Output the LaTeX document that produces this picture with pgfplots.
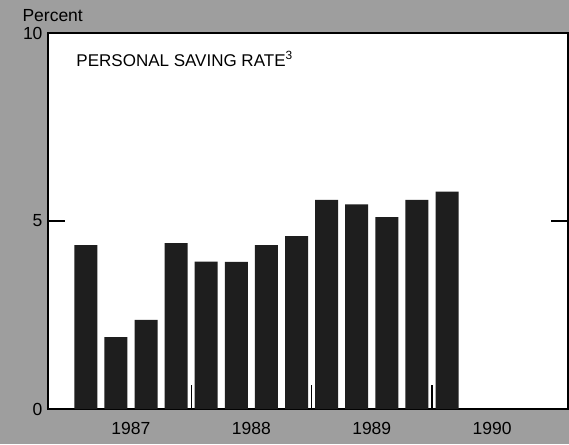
\documentclass[border=0pt]{standalone}
\usepackage{fontspec}
\setmainfont{Liberation Sans}
\usepackage{pgfplots}
\pgfplotsset{compat=1.18}
\definecolor{bggray}{RGB}{158,158,158}
\definecolor{barblk}{RGB}{30,30,30}

\begin{document}
\begin{tikzpicture}
  \fill[bggray] (0,0) rectangle (569pt,444pt);
  \useasboundingbox (0,0) rectangle (569pt,444pt);
  \node[anchor=base west, font=\fontsize{17.5}{20}\selectfont] at (19pt,422pt) {Percent};
  \begin{axis}[
      at={(48pt,35pt)}, anchor=south west,
      scale only axis,
      width=520pt, height=376pt,
      xmin=1986.811, xmax=1991.13,
      ymin=0, ymax=10,
      axis background/.style={fill=white},
      axis line style={line width=2.2pt},
      ytick={0,5,10},
      ytick pos=both,
      major tick length=17pt,
      ytick style={line width=1.8pt, black},
      xtick={1987.5,1988.5,1989.5,1990.5},
      xticklabels={1987,1988,1989,1990},
      every major x tick/.style={draw=none},
      minor xtick={1988,1989,1990},
      minor tick length=24pt,
      every minor x tick/.style={line width=1.3pt, black},
      xtick pos=bottom,
      tick align=inside,
      /pgf/number format/assume math mode=true,
      ticklabel style={font=\fontsize{17.5}{20}\selectfont},
      yticklabel style={xshift=-2pt},
      xticklabel style={yshift=-10pt},
    ]
    \addplot[ybar, bar width=23pt, fill=barblk, draw=none]
      coordinates {
        (1987.125,4.36) (1987.375,1.91) (1987.625,2.37) (1987.875,4.41)
        (1988.125,3.92) (1988.375,3.91) (1988.625,4.36) (1988.875,4.60)
        (1989.125,5.56) (1989.375,5.44) (1989.625,5.10) (1989.875,5.56)
        (1990.125,5.78)
      };
    \node[anchor=base west, font=\fontsize{17}{20}\selectfont]
      at (rel axis cs:0.048,0.912) {PERSONAL SAVING RATE\textsuperscript{3}};
  \end{axis}
\end{tikzpicture}
\end{document}
